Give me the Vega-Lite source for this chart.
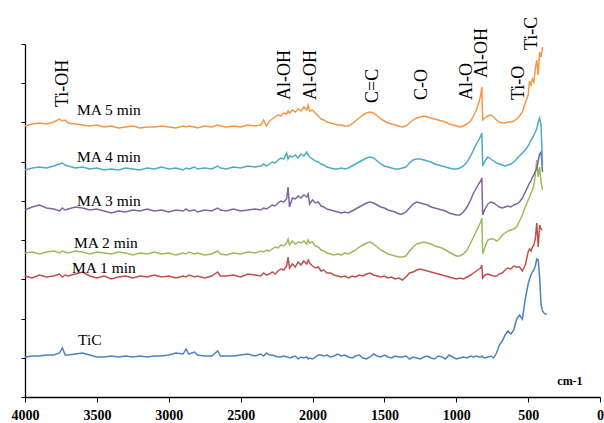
{
"$schema": "https://vega.github.io/schema/vega-lite/v6.json",
"width": 575, "height": 353,
"autosize": {"type": "none"},
"padding": {"left": 25, "top": 44, "right": 4, "bottom": 26},
"background": "white",
"config": {"view": {"stroke": null}, "font": "Liberation Serif"},
"encoding": {
  "x": {"field": "w", "type": "quantitative",
    "scale": {"domain": [0, 4000], "reverse": true, "nice": false, "zero": false},
    "axis": {"values": [0,500,1000,1500,2000,2500,3000,3500,4000], "title": null, "grid": false, "format": "d",
      "labelFont": "Liberation Serif", "labelFontSize": 14, "labelFontWeight": "bold", "labelColor": "black",
      "domainColor": "black", "domainWidth": 1.3, "tickColor": "black", "tickSize": 5, "labelPadding": 6, "labelFlush": false, "labelOverlap": false}},
  "y": {"field": "h", "type": "quantitative",
    "scale": {"domain": [0, 353], "nice": false, "zero": false},
    "axis": {"values": [0,39.22,78.44,117.67,156.89,196.11,235.33,274.56,313.78,353], "labels": false, "title": null, "grid": false,
      "domainColor": "black", "domainWidth": 1.3, "tickColor": "black", "tickSize": 4}}
},
"layer": [
{
"data": {"values": [
{"w":4000,"TiC":40,"MA1":121,"MA2":144,"MA3":187,"MA4":227,"MA5":271},
{"w":3950,"TiC":41,"MA1":119,"MA2":145,"MA3":190,"MA4":229,"MA5":273},
{"w":3900,"TiC":41,"MA1":122,"MA2":143,"MA3":192,"MA4":230,"MA5":274},
{"w":3850,"TiC":42,"MA1":120,"MA2":145,"MA3":189,"MA4":229,"MA5":273},
{"w":3800,"TiC":42,"MA1":121,"MA2":146,"MA3":188,"MA4":231,"MA5":275},
{"w":3760,"TiC":44,"MA1":123,"MA2":144,"MA3":186,"MA4":233,"MA5":278},
{"w":3740,"TiC":49,"MA1":120,"MA2":146,"MA3":189,"MA4":234,"MA5":276},
{"w":3720,"TiC":42,"MA1":122,"MA2":145,"MA3":187,"MA4":232,"MA5":277},
{"w":3700,"TiC":42,"MA1":121,"MA2":144,"MA3":188,"MA4":231,"MA5":274},
{"w":3650,"TiC":43,"MA1":123,"MA2":146,"MA3":190,"MA4":229,"MA5":273},
{"w":3600,"TiC":44,"MA1":125,"MA2":145,"MA3":189,"MA4":230,"MA5":272},
{"w":3550,"TiC":42,"MA1":121,"MA2":143,"MA3":187,"MA4":228,"MA5":271},
{"w":3500,"TiC":40,"MA1":119,"MA2":145,"MA3":188,"MA4":229,"MA5":272},
{"w":3450,"TiC":40,"MA1":121,"MA2":144,"MA3":186,"MA4":227,"MA5":270},
{"w":3400,"TiC":41,"MA1":118,"MA2":143,"MA3":184,"MA4":228,"MA5":271},
{"w":3350,"TiC":40,"MA1":120,"MA2":145,"MA3":186,"MA4":227,"MA5":269},
{"w":3300,"TiC":41,"MA1":121,"MA2":144,"MA3":185,"MA4":229,"MA5":270},
{"w":3250,"TiC":40,"MA1":119,"MA2":142,"MA3":187,"MA4":228,"MA5":271},
{"w":3200,"TiC":41,"MA1":121,"MA2":144,"MA3":186,"MA4":227,"MA5":269},
{"w":3150,"TiC":40,"MA1":120,"MA2":143,"MA3":188,"MA4":229,"MA5":270},
{"w":3100,"TiC":41,"MA1":122,"MA2":145,"MA3":186,"MA4":228,"MA5":270},
{"w":3050,"TiC":41,"MA1":120,"MA2":143,"MA3":187,"MA4":230,"MA5":271},
{"w":3000,"TiC":42,"MA1":121,"MA2":144,"MA3":185,"MA4":228,"MA5":270},
{"w":2950,"TiC":44,"MA1":119,"MA2":142,"MA3":187,"MA4":229,"MA5":269},
{"w":2900,"TiC":43,"MA1":121,"MA2":144,"MA3":186,"MA4":227,"MA5":271},
{"w":2880,"TiC":48,"MA1":120,"MA2":143,"MA3":188,"MA4":229,"MA5":270},
{"w":2860,"TiC":43,"MA1":122,"MA2":145,"MA3":186,"MA4":228,"MA5":271},
{"w":2820,"TiC":45,"MA1":120,"MA2":143,"MA3":187,"MA4":230,"MA5":270},
{"w":2800,"TiC":42,"MA1":121,"MA2":144,"MA3":185,"MA4":228,"MA5":269},
{"w":2750,"TiC":41,"MA1":119,"MA2":142,"MA3":187,"MA4":229,"MA5":271},
{"w":2700,"TiC":41,"MA1":121,"MA2":143,"MA3":186,"MA4":228,"MA5":270},
{"w":2660,"TiC":46,"MA1":125,"MA2":146,"MA3":189,"MA4":231,"MA5":272},
{"w":2640,"TiC":41,"MA1":121,"MA2":143,"MA3":187,"MA4":229,"MA5":271},
{"w":2600,"TiC":41,"MA1":121,"MA2":142,"MA3":186,"MA4":228,"MA5":270},
{"w":2550,"TiC":41,"MA1":122,"MA2":144,"MA3":188,"MA4":230,"MA5":271},
{"w":2500,"TiC":42,"MA1":120,"MA2":143,"MA3":186,"MA4":229,"MA5":270},
{"w":2450,"TiC":43,"MA1":123,"MA2":145,"MA3":187,"MA4":231,"MA5":272},
{"w":2400,"TiC":41,"MA1":122,"MA2":144,"MA3":188,"MA4":230,"MA5":271},
{"w":2360,"TiC":43,"MA1":121,"MA2":146,"MA3":187,"MA4":231,"MA5":272},
{"w":2340,"TiC":41,"MA1":124,"MA2":145,"MA3":189,"MA4":233,"MA5":277},
{"w":2320,"TiC":44,"MA1":122,"MA2":147,"MA3":188,"MA4":231,"MA5":271},
{"w":2300,"TiC":42,"MA1":123,"MA2":146,"MA3":190,"MA4":233,"MA5":276},
{"w":2280,"TiC":42,"MA1":125,"MA2":148,"MA3":192,"MA4":235,"MA5":278},
{"w":2260,"TiC":41,"MA1":123,"MA2":150,"MA3":191,"MA4":234,"MA5":280},
{"w":2240,"TiC":40,"MA1":126,"MA2":149,"MA3":194,"MA4":237,"MA5":282},
{"w":2220,"TiC":40,"MA1":128,"MA2":152,"MA3":196,"MA4":239,"MA5":281},
{"w":2200,"TiC":41,"MA1":127,"MA2":151,"MA3":195,"MA4":238,"MA5":284},
{"w":2180,"TiC":40,"MA1":131,"MA2":154,"MA3":198,"MA4":244,"MA5":283},
{"w":2170,"TiC":40,"MA1":140,"MA2":158,"MA3":210,"MA4":238,"MA5":286},
{"w":2160,"TiC":39,"MA1":129,"MA2":152,"MA3":190,"MA4":241,"MA5":284},
{"w":2140,"TiC":40,"MA1":133,"MA2":156,"MA3":199,"MA4":240,"MA5":287},
{"w":2120,"TiC":41,"MA1":130,"MA2":153,"MA3":198,"MA4":242,"MA5":285},
{"w":2100,"TiC":38,"MA1":135,"MA2":155,"MA3":201,"MA4":239,"MA5":288},
{"w":2080,"TiC":40,"MA1":132,"MA2":154,"MA3":199,"MA4":243,"MA5":286},
{"w":2060,"TiC":39,"MA1":136,"MA2":156,"MA3":202,"MA4":241,"MA5":290},
{"w":2040,"TiC":40,"MA1":133,"MA2":153,"MA3":200,"MA4":245,"MA5":287},
{"w":2030,"TiC":38,"MA1":137,"MA2":157,"MA3":203,"MA4":242,"MA5":292},
{"w":2020,"TiC":39,"MA1":134,"MA2":154,"MA3":193,"MA4":240,"MA5":286},
{"w":2000,"TiC":38,"MA1":131,"MA2":155,"MA3":197,"MA4":238,"MA5":287},
{"w":1980,"TiC":40,"MA1":129,"MA2":151,"MA3":194,"MA4":236,"MA5":284},
{"w":1960,"TiC":42,"MA1":130,"MA2":150,"MA3":195,"MA4":235,"MA5":281},
{"w":1940,"TiC":42,"MA1":126,"MA2":147,"MA3":191,"MA4":233,"MA5":278},
{"w":1920,"TiC":41,"MA1":127,"MA2":146,"MA3":190,"MA4":232,"MA5":277},
{"w":1900,"TiC":42,"MA1":124,"MA2":144,"MA3":188,"MA4":230,"MA5":275},
{"w":1875,"TiC":40,"MA1":124,"MA2":143,"MA3":187,"MA4":229,"MA5":274},
{"w":1850,"TiC":41,"MA1":122,"MA2":142,"MA3":186,"MA4":228,"MA5":273},
{"w":1825,"TiC":43,"MA1":121,"MA2":143,"MA3":185,"MA4":228,"MA5":272},
{"w":1800,"TiC":41,"MA1":120,"MA2":142,"MA3":184,"MA4":229,"MA5":272},
{"w":1775,"TiC":42,"MA1":121,"MA2":144,"MA3":185,"MA4":228,"MA5":271},
{"w":1750,"TiC":40,"MA1":119,"MA2":143,"MA3":184,"MA4":229,"MA5":271},
{"w":1725,"TiC":39,"MA1":121,"MA2":145,"MA3":186,"MA4":231,"MA5":273},
{"w":1700,"TiC":41,"MA1":120,"MA2":147,"MA3":188,"MA4":233,"MA5":276},
{"w":1675,"TiC":42,"MA1":122,"MA2":150,"MA3":190,"MA4":235,"MA5":279},
{"w":1650,"TiC":39,"MA1":121,"MA2":152,"MA3":192,"MA4":237,"MA5":282},
{"w":1625,"TiC":38,"MA1":123,"MA2":154,"MA3":194,"MA4":239,"MA5":284},
{"w":1600,"TiC":40,"MA1":124,"MA2":155,"MA3":195,"MA4":240,"MA5":285},
{"w":1575,"TiC":43,"MA1":122,"MA2":153,"MA3":194,"MA4":239,"MA5":284},
{"w":1550,"TiC":41,"MA1":121,"MA2":150,"MA3":192,"MA4":236,"MA5":281},
{"w":1525,"TiC":40,"MA1":120,"MA2":147,"MA3":190,"MA4":233,"MA5":278},
{"w":1500,"TiC":42,"MA1":121,"MA2":145,"MA3":189,"MA4":231,"MA5":276},
{"w":1475,"TiC":40,"MA1":119,"MA2":143,"MA3":187,"MA4":230,"MA5":274},
{"w":1450,"TiC":39,"MA1":120,"MA2":142,"MA3":186,"MA4":229,"MA5":273},
{"w":1425,"TiC":41,"MA1":118,"MA2":141,"MA3":185,"MA4":228,"MA5":272},
{"w":1400,"TiC":40,"MA1":119,"MA2":140,"MA3":183,"MA4":228,"MA5":271},
{"w":1375,"TiC":40,"MA1":117,"MA2":140,"MA3":183,"MA4":229,"MA5":270},
{"w":1350,"TiC":41,"MA1":120,"MA2":141,"MA3":185,"MA4":230,"MA5":271},
{"w":1325,"TiC":38,"MA1":124,"MA2":146,"MA3":189,"MA4":234,"MA5":274},
{"w":1300,"TiC":40,"MA1":125,"MA2":150,"MA3":193,"MA4":237,"MA5":277},
{"w":1275,"TiC":39,"MA1":127,"MA2":153,"MA3":195,"MA4":238,"MA5":279},
{"w":1250,"TiC":38,"MA1":128,"MA2":154,"MA3":194,"MA4":238,"MA5":280},
{"w":1225,"TiC":40,"MA1":127,"MA2":155,"MA3":193,"MA4":237,"MA5":281},
{"w":1200,"TiC":41,"MA1":126,"MA2":154,"MA3":192,"MA4":236,"MA5":280},
{"w":1175,"TiC":39,"MA1":125,"MA2":153,"MA3":190,"MA4":235,"MA5":279},
{"w":1150,"TiC":38,"MA1":124,"MA2":151,"MA3":189,"MA4":233,"MA5":278},
{"w":1125,"TiC":41,"MA1":123,"MA2":150,"MA3":188,"MA4":232,"MA5":277},
{"w":1100,"TiC":40,"MA1":122,"MA2":149,"MA3":187,"MA4":231,"MA5":276},
{"w":1075,"TiC":38,"MA1":121,"MA2":147,"MA3":186,"MA4":230,"MA5":275},
{"w":1050,"TiC":42,"MA1":120,"MA2":145,"MA3":184,"MA4":229,"MA5":273},
{"w":1025,"TiC":40,"MA1":119,"MA2":143,"MA3":183,"MA4":228,"MA5":272},
{"w":1000,"TiC":38,"MA1":118,"MA2":141,"MA3":182,"MA4":228,"MA5":271},
{"w":975,"TiC":39,"MA1":119,"MA2":141,"MA3":182,"MA4":229,"MA5":270},
{"w":950,"TiC":40,"MA1":118,"MA2":143,"MA3":185,"MA4":231,"MA5":271},
{"w":925,"TiC":39,"MA1":120,"MA2":147,"MA3":190,"MA4":235,"MA5":273},
{"w":900,"TiC":41,"MA1":122,"MA2":154,"MA3":197,"MA4":241,"MA5":276},
{"w":880,"TiC":40,"MA1":124,"MA2":160,"MA3":204,"MA4":247,"MA5":281},
{"w":860,"TiC":41,"MA1":126,"MA2":166,"MA3":209,"MA4":253,"MA5":287},
{"w":840,"TiC":40,"MA1":128,"MA2":172,"MA3":214,"MA4":258,"MA5":296},
{"w":830,"TiC":40,"MA1":129,"MA2":175,"MA3":216,"MA4":261,"MA5":302},
{"w":822,"TiC":41,"MA1":132,"MA2":179,"MA3":219,"MA4":264,"MA5":310},
{"w":816,"TiC":40,"MA1":119,"MA2":143,"MA3":182,"MA4":231,"MA5":277},
{"w":800,"TiC":39,"MA1":122,"MA2":150,"MA3":188,"MA4":236,"MA5":279},
{"w":780,"TiC":40,"MA1":123,"MA2":157,"MA3":193,"MA4":240,"MA5":281},
{"w":760,"TiC":41,"MA1":122,"MA2":158,"MA3":195,"MA4":238,"MA5":282},
{"w":740,"TiC":39,"MA1":121,"MA2":158,"MA3":194,"MA4":236,"MA5":280},
{"w":720,"TiC":44,"MA1":121,"MA2":156,"MA3":192,"MA4":234,"MA5":277},
{"w":700,"TiC":52,"MA1":123,"MA2":158,"MA3":190,"MA4":233,"MA5":275},
{"w":680,"TiC":56,"MA1":124,"MA2":162,"MA3":189,"MA4":232,"MA5":274},
{"w":660,"TiC":62,"MA1":127,"MA2":164,"MA3":190,"MA4":231,"MA5":274},
{"w":640,"TiC":66,"MA1":129,"MA2":166,"MA3":191,"MA4":232,"MA5":275},
{"w":620,"TiC":63,"MA1":128,"MA2":167,"MA3":190,"MA4":233,"MA5":275},
{"w":600,"TiC":67,"MA1":131,"MA2":168,"MA3":192,"MA4":235,"MA5":276},
{"w":580,"TiC":78,"MA1":130,"MA2":170,"MA3":193,"MA4":238,"MA5":278},
{"w":560,"TiC":82,"MA1":130,"MA2":176,"MA3":195,"MA4":241,"MA5":281},
{"w":540,"TiC":78,"MA1":126,"MA2":182,"MA3":199,"MA4":244,"MA5":285},
{"w":520,"TiC":98,"MA1":132,"MA2":190,"MA3":205,"MA4":247,"MA5":294},
{"w":500,"TiC":113,"MA1":145,"MA2":197,"MA3":211,"MA4":251,"MA5":302},
{"w":490,"TiC":118,"MA1":148,"MA2":200,"MA3":214,"MA4":254,"MA5":316},
{"w":480,"TiC":122,"MA1":146,"MA2":204,"MA3":216,"MA4":257,"MA5":312},
{"w":470,"TiC":125,"MA1":150,"MA2":207,"MA3":220,"MA4":259,"MA5":318},
{"w":460,"TiC":127,"MA1":152,"MA2":212,"MA3":222,"MA4":262,"MA5":315},
{"w":450,"TiC":131,"MA1":158,"MA2":222,"MA3":226,"MA4":265,"MA5":328},
{"w":440,"TiC":138,"MA1":174,"MA2":237,"MA3":228,"MA4":268,"MA5":337},
{"w":430,"TiC":137,"MA1":150,"MA2":220,"MA3":236,"MA4":275,"MA5":322},
{"w":420,"TiC":120,"MA1":172,"MA2":230,"MA3":243,"MA4":279,"MA5":345},
{"w":410,"TiC":92,"MA1":168,"MA2":215,"MA3":245,"MA4":272,"MA5":340},
{"w":400,"TiC":86,"MA1":167,"MA2":207,"MA3":225,"MA4":232,"MA5":350},
{"w":390,"TiC":84},
{"w":380,"TiC":83},
{"w":370,"TiC":83}
]},
"transform": [
  {"fold": ["TiC","MA1","MA2","MA3","MA4","MA5"], "as": ["series","h"]},
  {"filter": "isValid(datum.h)"}
],
"mark": {"type": "line", "strokeWidth": 1.5},
"encoding": {
  "color": {"field": "series", "type": "nominal",
    "scale": {"domain": ["TiC","MA1","MA2","MA3","MA4","MA5"], "range": ["#4F81BD","#C0504D","#9BBB59","#8064A2","#4BACC6","#F79646"]},
    "legend": null}
}
},
{
"data": {"values": [
{"w":3638,"h":282,"label":"MA 5 min"},
{"w":3638,"h":235,"label":"MA 4 min"},
{"w":3638,"h":191,"label":"MA 3 min"},
{"w":3659,"h":149,"label":"MA 2 min"},
{"w":3673,"h":124,"label":"MA 1 min"},
{"w":3631,"h":52,"label":"TiC"}
]},
"mark": {"type": "text", "align": "left", "baseline": "alphabetic", "font": "Liberation Serif", "fontSize": 15.5, "color": "black"},
"encoding": {"text": {"field": "label"}}
},
{
"data": {"values": [
{"w":3736,"h":290,"label":"Ti-OH"},
{"w":2191,"h":297,"label":"Al-OH"},
{"w":2010,"h":297,"label":"Al-OH"},
{"w":1579,"h":294,"label":"C=C"},
{"w":1238,"h":297,"label":"C-O"},
{"w":925,"h":297,"label":"Al-O"},
{"w":821,"h":319,"label":"Al-OH"},
{"w":563,"h":297,"label":"Ti-O"},
{"w":473,"h":347,"label":"Ti-C"}
]},
"mark": {"type": "text", "angle": 270, "align": "left", "baseline": "middle", "font": "Liberation Serif", "fontSize": 18, "color": "black"},
"encoding": {"text": {"field": "label"}}
},
{
"data": {"values": [{"w":209,"h":12,"label":"cm-1"}]},
"mark": {"type": "text", "align": "center", "baseline": "alphabetic", "font": "Liberation Serif", "fontSize": 12, "fontWeight": "bold", "color": "black"},
"encoding": {"text": {"field": "label"}}
}
]
}
